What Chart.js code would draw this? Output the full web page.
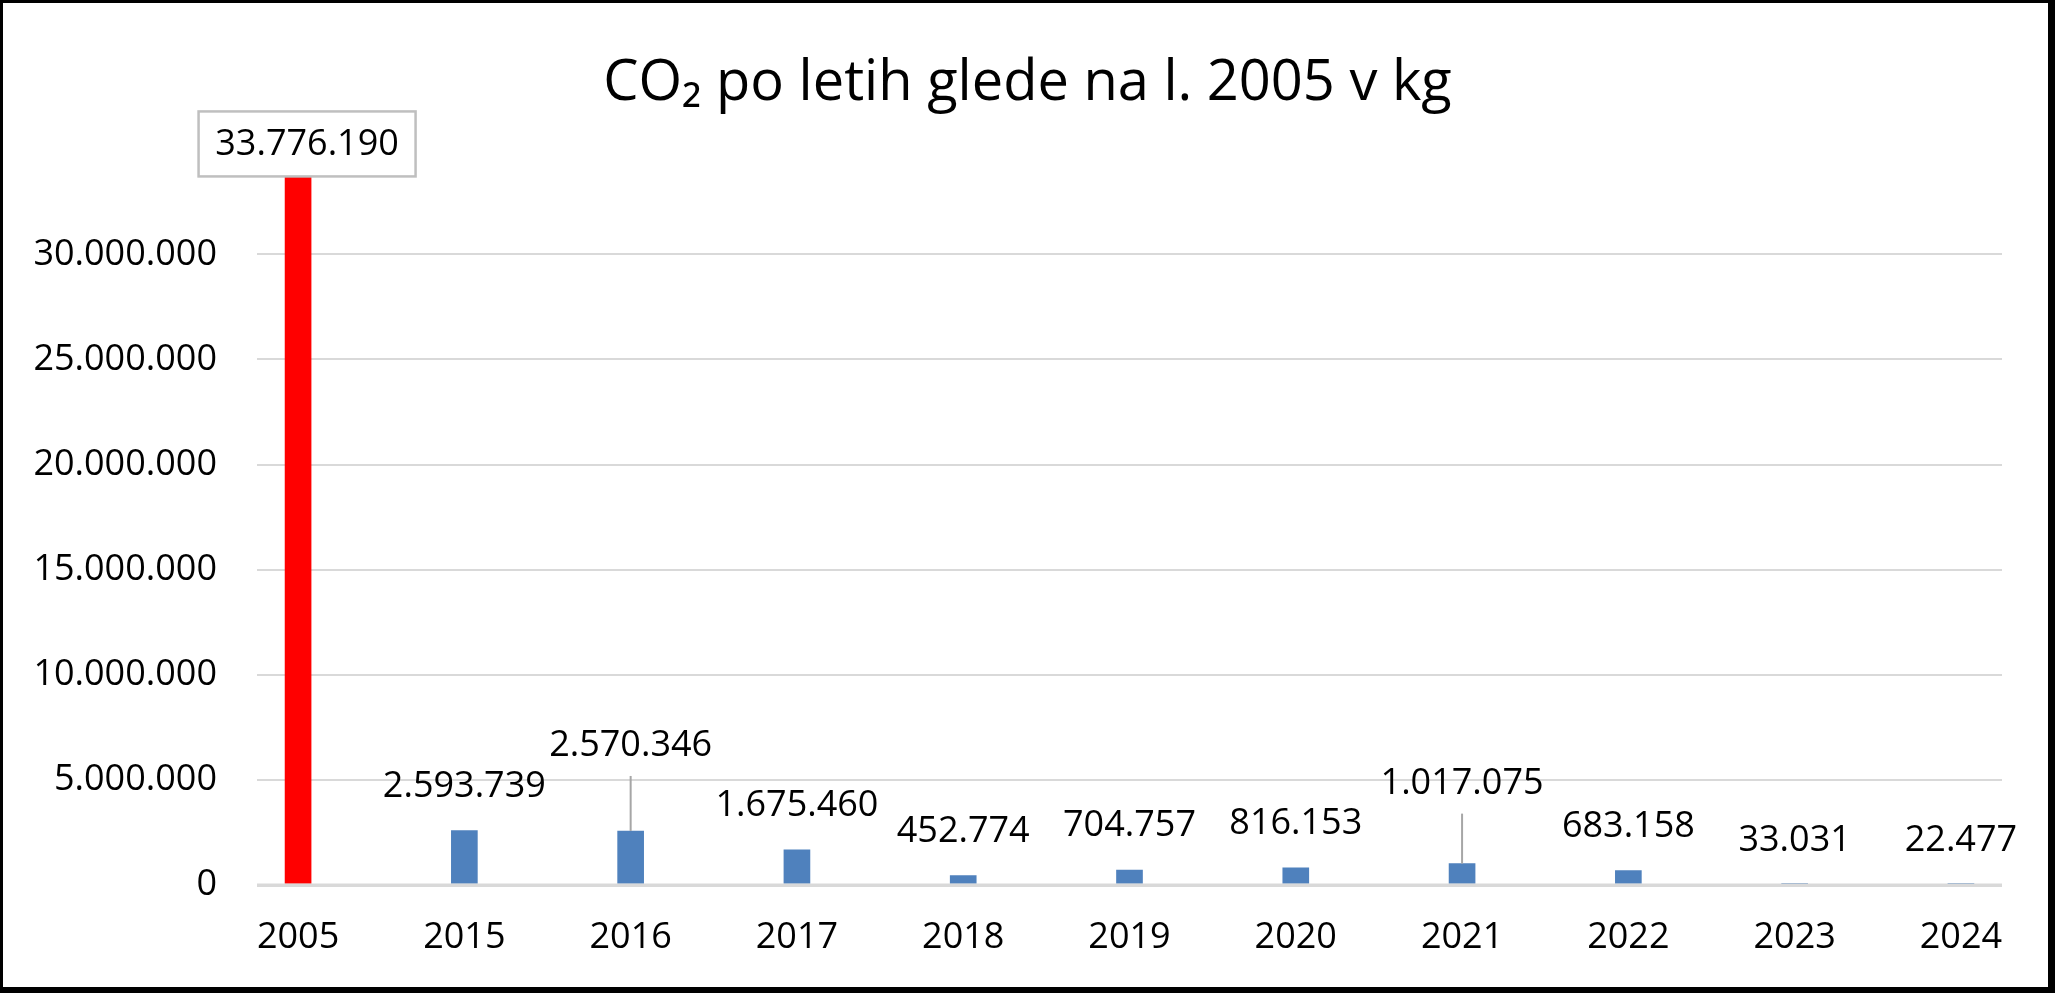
<!DOCTYPE html>
<html>
<head>
    <meta http-equiv="Content-Type" content="text/html; charset=utf-8"/>
    <title>CO2 po letih</title>
    <style>
        html, body { margin: 0; padding: 0; background: #fff; }
        #wrap { width: 2055px; height: 993px; }
    </style>
</head>
<body>
    <div id="wrap">
        <canvas id="myChart" width="2055" height="993"></canvas>
    </div>
    <script src="https://cdn.jsdelivr.net/npm/chart.js"></script>
    <script>
        const years = ['2005', '2015', '2016', '2017', '2018', '2019', '2020', '2021', '2022', '2023', '2024'];
        const co2 = [33776190, 2593739, 2570346, 1675460, 452774, 704757, 816153, 1017075, 683158, 33031, 22477];
        const yTicks = [0, 5000000, 10000000, 15000000, 20000000, 25000000, 30000000];

        // how far (px) each label sits above its bar; 2016 and 2021 were moved up in the original and got leader lines
        const labelLift = [31, 45, 86, 45, 45, 45, 45, 81, 45, 45, 45];
        const hasLeader = [false, false, true, false, false, false, false, true, false, false, false];

        const FONT = '"Open Sans", sans-serif';
        const fmt = (v) => String(Math.round(v)).replace(/\B(?=(\d{3})+(?!\d))/g, '.');

        const barColors = co2.map((v, i) => i === 0 ? '#ff0000' : '#4f81bd');

        const valueLabels = {
            id: 'valueLabels',
            afterDatasetsDraw(chart) {
                const ctx = chart.ctx;
                const meta = chart.getDatasetMeta(0);
                const area = chart.chartArea;
                ctx.save();
                // axis line sits on top of the bars, like in the original
                const y0 = chart.scales.y.getPixelForValue(0);
                ctx.strokeStyle = '#d9d9d9';
                ctx.lineWidth = 3;
                ctx.beginPath();
                ctx.moveTo(area.left, y0);
                ctx.lineTo(area.right, y0);
                ctx.stroke();

                ctx.font = '36px ' + FONT;
                ctx.textAlign = 'center';
                ctx.textBaseline = 'middle';
                meta.data.forEach((bar, i) => {
                    const txt = fmt(co2[i]);
                    let x = bar.x;
                    const y = bar.y - labelLift[i];
                    if (i === 0) {
                        x += 9;
                        const w = 217, h = 65;
                        ctx.fillStyle = '#ffffff';
                        ctx.fillRect(x - w / 2, y - h / 2, w, h);
                        ctx.strokeStyle = '#bfbfbf';
                        ctx.lineWidth = 2.5;
                        ctx.strokeRect(x - w / 2, y - h / 2, w, h);
                    }
                    if (hasLeader[i]) {
                        ctx.strokeStyle = '#a6a6a6';
                        ctx.lineWidth = 2;
                        ctx.beginPath();
                        ctx.moveTo(bar.x, y + 31);
                        ctx.lineTo(bar.x, bar.y);
                        ctx.stroke();
                    }
                    ctx.fillStyle = '#000000';
                    ctx.fillText(txt, x, y + 1);
                });
                ctx.restore();
            }
        };

        const frame = {
            id: 'frame',
            beforeDraw(chart) {
                const ctx = chart.ctx;
                ctx.save();
                ctx.fillStyle = '#ffffff';
                ctx.fillRect(0, 0, chart.width, chart.height);
                ctx.restore();
            },
            afterDraw(chart) {
                const ctx = chart.ctx;
                ctx.save();
                ctx.fillStyle = '#000000';
                ctx.fillRect(0, 0, chart.width, 3);
                ctx.fillRect(0, 0, 3, chart.height);
                ctx.fillRect(chart.width - 7, 0, 7, chart.height);
                ctx.fillRect(0, chart.height - 6, chart.width, 6);
                ctx.restore();
            }
        };

        const config = {
            type: 'bar',
            data: {
                datasets: [{
                    label: 'CO2',
                    data: co2.map((v, i) => ({ x: i, y: v })),
                    backgroundColor: barColors,
                    barThickness: 26,
                    borderWidth: 0
                }]
            },
            options: {
                responsive: false,
                animation: false,
                devicePixelRatio: 1,
                layout: {
                    padding: { top: 20, left: 20, right: 20, bottom: 28 }
                },
                plugins: {
                    legend: { display: false },
                    tooltip: { enabled: false },
                    title: {
                        display: true,
                        text: 'CO\u2082 po letih glede na l. 2005 v kg',
                        color: '#000000',
                        font: { family: FONT, size: 56, weight: 'normal' },
                        padding: { top: 30, bottom: 32 }
                    }
                },
                scales: {
                    x: {
                        type: 'linear',
                        min: -0.247,
                        max: 10.247,
                        offset: false,
                        grid: { display: false, drawTicks: false },
                        border: { display: false },
                        afterFit: (s) => { s.height = 80; },
                        afterBuildTicks: (s) => { s.ticks = years.map((y, i) => ({ value: i })); },
                        ticks: {
                            padding: 31,
                            color: '#000000',
                            font: { family: FONT, size: 36 },
                            maxRotation: 0,
                            autoSkip: false,
                            callback: (v) => years[v]
                        }
                    },
                    y: {
                        min: 0,
                        max: 35000000,
                        afterFit: (s) => { s.width = 237; },
                        afterBuildTicks: (s) => { s.ticks = yTicks.map((v) => ({ value: v })); },
                        grid: {
                            drawTicks: false,
                            color: '#d9d9d9',
                            lineWidth: (c) => c.tick && c.tick.value === 0 ? 3 : 2
                        },
                        border: { display: false },
                        ticks: {
                            padding: 40,
                            color: '#000000',
                            font: { family: FONT, size: 36 },
                            callback: (v) => fmt(v)
                        }
                    },
                    // empty right margin so the title stays centred on the whole frame
                    yRight: {
                        position: 'right',
                        afterFit: (s) => { s.width = 33; },
                        grid: { display: false, drawTicks: false },
                        border: { display: false },
                        ticks: { display: false }
                    }
                }
            },
            plugins: [frame, valueLabels]
        };

        const myChart = new Chart(
            document.getElementById('myChart'),
            config
        );
    </script>
</body>
</html>
